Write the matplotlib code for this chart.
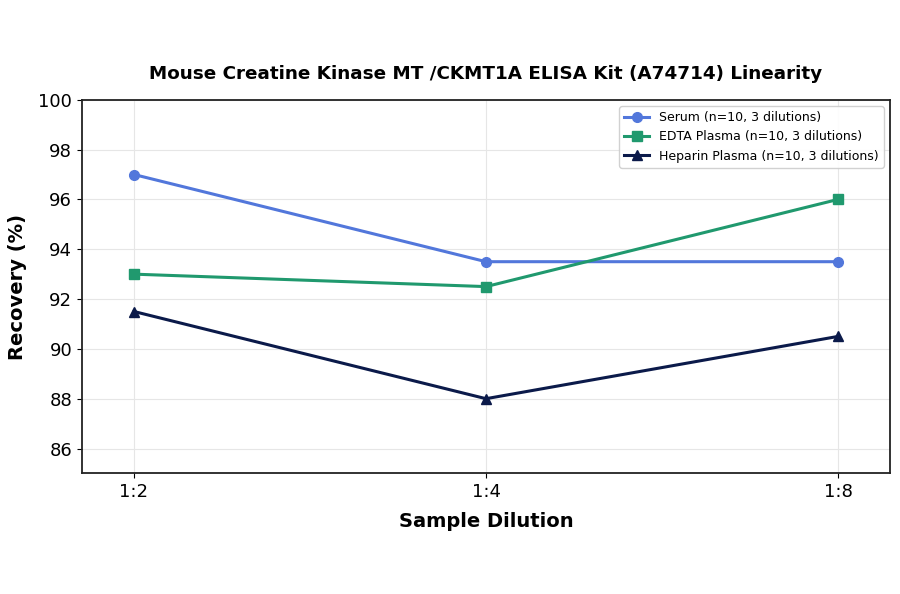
import numpy as np
import matplotlib
matplotlib.use("Agg")
import matplotlib.pyplot as plt

#--------------------------------------------------------------------
# data
dilutions = ["1:2", "1:4", "1:8"]
serum = [97.0, 93.5, 93.5]
edta = [93.0, 92.5, 96.0]
heparin = [91.5, 88.0, 90.5]

labels = ["Serum (n=10, 3 dilutions)",
          "EDTA Plasma (n=10, 3 dilutions)",
          "Heparin Plasma (n=10, 3 dilutions)"]
colors = ["#5277DB", "#20996E", "#0B1A4A"]
markers = ["o", "s", "^"]

#--------------------------------------------------------------------
fig, ax = plt.subplots(figsize=(9, 5.94), dpi=100)
fig.subplots_adjust(left=0.091, right=0.989, top=0.832, bottom=0.203)

xs = np.arange(len(dilutions))
for vals, lab, c, m in zip([serum, edta, heparin], labels, colors, markers):
    ax.plot(xs, vals, color=c, marker=m, markersize=7, linewidth=2.2, label=lab)

ax.set_xticks(xs)
ax.set_xticklabels(dilutions, fontsize=13)
ax.set_xlim(-0.148, 2.148)
ax.set_ylim(85, 100)
ax.set_yticks(np.arange(86, 101, 2))
ax.tick_params(axis="y", labelsize=13)
ax.grid(True, color="#e6e6e6", linewidth=0.8)
ax.set_axisbelow(True)

for s in ax.spines.values():
    s.set_linewidth(1.3)
    s.set_color("#222222")

ax.set_xlabel("Sample Dilution", fontsize=14, fontweight="bold", labelpad=8)
ax.set_ylabel("Recovery (%)", fontsize=14, fontweight="bold", labelpad=8)
ax.set_title("Mouse Creatine Kinase MT /CKMT1A ELISA Kit (A74714) Linearity",
             fontsize=13.2, fontweight="bold", pad=15)

ax.legend(loc="upper right", fontsize=9, framealpha=0.9)

fig.savefig("out.png", dpi=100)
